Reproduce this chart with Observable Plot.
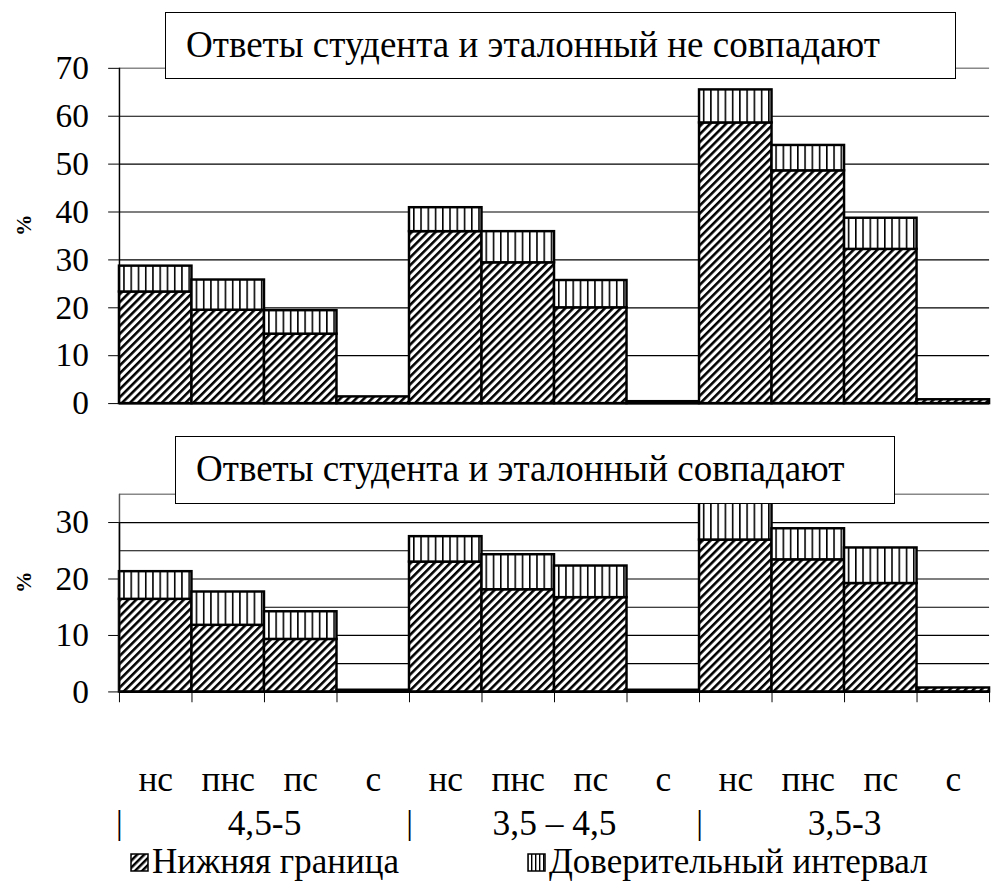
<!DOCTYPE html>
<html><head><meta charset="utf-8">
<script src="https://cdn.jsdelivr.net/npm/d3@7"></script>
<script src="https://cdn.jsdelivr.net/npm/@observablehq/plot@0.6"></script>
<style>
html,body{margin:0;padding:0;background:#fff;overflow:hidden;}
#wrap{position:relative;width:993px;height:881px;overflow:hidden;font-family:'Liberation Serif','DejaVu Serif','Times New Roman',serif;color:#000;}
.panel{position:absolute;left:0;}
.panel svg{display:block;}
.tbox{position:absolute;background:#fff;border:1.5px solid #000;box-sizing:border-box;font-size:37px;line-height:1;white-space:nowrap;}
.tbox span{position:absolute;left:20px;top:13px;}
.leg{position:absolute;font-size:35px;white-space:nowrap;line-height:1;}
.leg svg{position:absolute;}
</style></head>
<body>
<svg width="0" height="0" style="position:absolute">
  <defs>
    <pattern id="diag" patternUnits="userSpaceOnUse" width="5.7" height="5.7" patternTransform="rotate(45)">
      <rect width="5.7" height="5.7" fill="#fff"/>
      <rect x="0" y="0" width="2.6" height="5.7" fill="#000"/>
    </pattern>
    <pattern id="vert" patternUnits="userSpaceOnUse" width="7.37" height="10">
      <rect width="7.37" height="10" fill="#fff"/>
      <rect x="0" y="0" width="1.6" height="10" fill="#000"/>
    </pattern>
    <pattern id="diagS" patternUnits="userSpaceOnUse" width="5" height="5" patternTransform="rotate(45)">
      <rect width="5" height="5" fill="#fff"/>
      <rect x="0" y="0" width="2.5" height="5" fill="#000"/>
    </pattern>
    <pattern id="vertS" patternUnits="userSpaceOnUse" width="4" height="10">
      <rect width="4" height="10" fill="#fff"/>
      <rect x="0" y="0" width="1.4" height="10" fill="#000"/>
    </pattern>
  </defs>
</svg>
<div id="wrap">
  <div class="panel" id="top" style="top:0"></div>
  <div class="panel" id="bot" style="top:425px"></div>
  <div class="tbox" id="t1" style="left:165px;top:12px;width:791px;height:67px;"><span></span></div>
  <div class="tbox" id="t2" style="left:175px;top:436px;width:720px;height:68px;"><span></span></div>
  <div class="leg" id="leg1" style="left:130px;top:844px;"></div>
  <div class="leg" id="leg2" style="left:527px;top:844px;"></div>
</div>
<script>
// ---- data ----
const categories = ["нс", "пнс", "пс", "с"];
const groups = ["4,5-5", "3,5 – 4,5", "3,5-3"];
const titles = ["Ответы студента и эталонный не совпадают", "Ответы студента и эталонный совпадают"];
const seriesNames = ["Нижняя граница", "Доверительный интервал"];
const yLabel = "%";
// panel 1: answers do not match
const lowerTop = [23.3, 19.5, 14.5, 1.4, 35.9, 29.4, 20.0, 0.4, 58.6, 48.6, 32.2, 0.8];
const intervalTop = [5.4, 6.3, 4.9, 0, 5.0, 6.5, 5.7, 0, 6.9, 5.3, 6.5, 0];
// panel 2: answers match
const lowerBot = [16.4, 11.8, 9.3, 0.3, 23.0, 18.1, 16.7, 0.3, 26.9, 23.4, 19.2, 0.7];
const intervalBot = [4.9, 5.9, 4.9, 0, 4.5, 6.2, 5.6, 0, 7.1, 5.5, 6.3, 0];
const topTicks = [0, 10, 20, 30, 40, 50, 60, 70];
const botTicks = [0, 10, 20, 30];
const botGrid = [5, 10, 15, 20, 25, 30];

const FONT = "'Liberation Serif','DejaVu Serif','Times New Roman',serif";
const nCat = groups.length * categories.length;

function rows(lower, interval) {
  return lower.map((v, i) => ({
    i, group: groups[Math.floor(i / categories.length)], cat: categories[i % categories.length],
    lower: v, upper: v + interval[i]
  }));
}

function barMarks(data) {
  return [
    Plot.rectY(data, {x1: "i", x2: d => d.i + 1, y1: 0, y2: "lower", fill: "url(#diag)", stroke: "#000", strokeWidth: 2.5}),
    Plot.rectY(data.filter(d => d.upper > d.lower), {x1: "i", x2: d => d.i + 1, y1: "lower", y2: "upper", fill: "url(#vert)", stroke: "#000", strokeWidth: 2.5})
  ];
}

const dTop = rows(lowerTop, intervalTop);
const dBot = rows(lowerBot, intervalBot);
const yMaxTop = d3.max(topTicks);
const yMaxBot = 35;

const topChart = Plot.plot({
  width: 1010, height: 425,
  marginLeft: 121, marginRight: 4, marginTop: 69, marginBottom: 15,
  style: {fontFamily: FONT, fontSize: "34px", color: "#000", background: "#fff", overflow: "visible"},
  x: {type: "linear", domain: [0, nCat], axis: null},
  y: {domain: [0, yMaxTop], ticks: topTicks, tickSize: 11, tickPadding: 20, label: null, tickFormat: d => String(d)},
  marks: [
    Plot.ruleY(topTicks.filter(t => t > 0 && t < yMaxTop), {stroke: "#000", strokeWidth: 1.2}),
    Plot.ruleY([yMaxTop], {stroke: "#888", strokeWidth: 1.5}),
    ...barMarks(dTop),
    Plot.ruleY([0], {stroke: "#000", strokeWidth: 2}),
    Plot.ruleX([0], {stroke: "#000", strokeWidth: 1.5}),
    Plot.text([yLabel], {frameAnchor: "left", text: d => d, rotate: -90, dx: -97, fontWeight: "bold", fontSize: 22})
  ]
});
document.getElementById("top").appendChild(topChart);

const botChart = Plot.plot({
  width: 1010, height: 456,
  marginLeft: 121, marginRight: 4, marginTop: 70, marginBottom: 185,
  style: {fontFamily: FONT, fontSize: "34px", color: "#000", background: "#fff", overflow: "visible"},
  x: {type: "linear", domain: [0, nCat], ticks: d3.range(nCat + 1), tickSize: 11, tickFormat: () => "", label: null},
  y: {domain: [0, yMaxBot], ticks: botTicks, tickSize: 11, tickPadding: 20, label: null, tickFormat: d => String(d)},
  marks: [
    Plot.ruleY(botGrid, {stroke: "#000", strokeWidth: 1.2}),
    Plot.ruleY([yMaxBot], {stroke: "#888", strokeWidth: 1.5}),
    ...barMarks(dBot),
    Plot.ruleY([0], {stroke: "#000", strokeWidth: 2}),
    Plot.ruleX([0], {y1: 0, y2: yMaxBot, stroke: "#555", strokeWidth: 1.5}),
    Plot.ruleX([0], {y1: 0, y2: 30, stroke: "#000", strokeWidth: 1.5}),
    Plot.text([yLabel], {frameAnchor: "left", text: d => d, rotate: -90, dx: -97, fontWeight: "bold", fontSize: 22}),
    // category labels
    Plot.text(dBot, {x: d => d.i + 0.5, text: "cat", frameAnchor: "bottom", lineAnchor: "bottom", dy: 101, fontSize: 36}),
    // group separators and group names
    Plot.text(groups, {x: (d, i) => i * categories.length, text: () => "|", frameAnchor: "bottom", lineAnchor: "bottom", dy: 145, fontSize: 34, fontWeight: 100}),
    Plot.text(groups, {x: (d, i) => i * categories.length + categories.length / 2, text: d => d, frameAnchor: "bottom", lineAnchor: "bottom", dy: 146, fontSize: 36})
  ]
});
document.getElementById("bot").appendChild(botChart);

document.querySelector("#t1 span").textContent = titles[0];
document.querySelector("#t2 span").textContent = titles[1];

function legend(el, pat, name) {
  el.innerHTML = `<svg width="19" height="19" style="left:0;top:9px"><rect x="1" y="1" width="17" height="17" fill="url(#${pat})" stroke="#000" stroke-width="1.5"/></svg><span style="position:absolute;left:22px;top:0">${name}</span>`;
}
legend(document.getElementById("leg1"), "diagS", seriesNames[0]);
legend(document.getElementById("leg2"), "vertS", seriesNames[1]);
</script>
</body></html>
